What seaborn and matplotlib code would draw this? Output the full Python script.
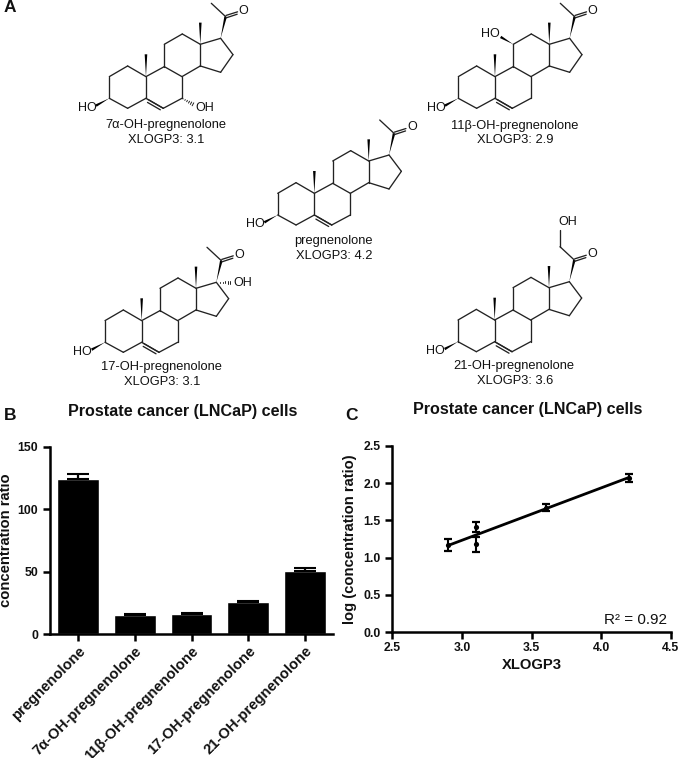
import matplotlib
matplotlib.use("Agg")
import matplotlib.pyplot as plt
from matplotlib.patches import Polygon
import numpy as np
import seaborn as sns

# ---- chart data ----
compounds = ["pregnenolone", "7α-OH-pregnenolone", "11β-OH-pregnenolone",
             "17-OH-pregnenolone", "21-OH-pregnenolone"]
ratio_mean = [124, 15.5, 16, 25.5, 51]
ratio_err = [4.5, 0.5, 1.2, 1.2, 2.3]
xlogp3 = [4.2, 3.1, 2.9, 3.1, 3.6]
log_ratio = [2.07, 1.18, 1.17, 1.41, 1.67]
log_err = [0.05, 0.10, 0.08, 0.07, 0.05]
xlogp_text = ["4.2", "3.1", "2.9", "3.1", "3.6"]

# ---- structure skeleton (pixels x3, relative to C3) ----
ATOMS = dict(c3=(0, 0), c2=(0, -65), c1=(55, -97), c10=(110, -65), c5=(110, 0), c4=(55, 30),
             c6=(162, 30), c7=(218, 0), c8=(218, -65), c9=(165, -95), c11=(165, -162),
             c12=(219, -193), c13=(273, -162), c14=(273, -97), c15=(334, -78), c16=(371, -131),
             c17=(334, -180), c18=(273, -227), c19=(110, -132), c20=(349, -245), c21=(306, -285),
             o=(397, -260))
BONDS = [("c3", "c2"), ("c2", "c1"), ("c1", "c10"), ("c10", "c5"), ("c5", "c4"), ("c4", "c3"),
         ("c5", "c6"), ("c6", "c7"), ("c7", "c8"), ("c8", "c9"), ("c9", "c10"), ("c9", "c11"),
         ("c11", "c12"), ("c12", "c13"), ("c13", "c14"), ("c14", "c8"), ("c14", "c15"),
         ("c15", "c16"), ("c16", "c17"), ("c17", "c13"), ("c20", "c21")]
MOL_C3 = {"pregnenolone": (277.7, 215), "7α-OH-pregnenolone": (109.3, 98.3),
          "11β-OH-pregnenolone": (458.3, 98.3), "17-OH-pregnenolone": (105, 342.3),
          "21-OH-pregnenolone": (458, 341.7)}
MOL_TXT = {"pregnenolone": (333, 241), "7α-OH-pregnenolone": (165.5, 125),
           "11β-OH-pregnenolone": (514.5, 125.5), "17-OH-pregnenolone": (161, 367),
           "21-OH-pregnenolone": (514, 366.5)}

sns.set_style("ticks")
plt.rcParams["font.family"] = ["Liberation Sans", "DejaVu Sans"]
W, H = 680, 758
fig = plt.figure(figsize=(W / 100, H / 100), dpi=100, facecolor="white")

def px_axes(l, r, t, b):
    return fig.add_axes([l / W, (H - b) / H, (r - l) / W, (b - t) / H])

# ---- overlay for structures ----
ov = fig.add_axes([0, 0, 1, 1], zorder=5)
ov.set_xlim(0, W)
ov.set_ylim(H, 0)
ov.axis("off")
ov.patch.set_alpha(0)
INK = "#222222"
LW = 0.95

def line(p, q, lw=LW):
    ov.plot([p[0], q[0]], [p[1], q[1]], color=INK, lw=lw, solid_capstyle="round")

def wedge(p, q, w=2.6):
    p, q = np.array(p, float), np.array(q, float)
    d = q - p
    n = np.array([-d[1], d[0]]) / np.hypot(*d)
    ov.add_patch(Polygon([p, q + n * w / 2, q - n * w / 2], closed=True, color="black", lw=0))

def hashed(p, q, w=3.4, k=6):
    p, q = np.array(p, float), np.array(q, float)
    d = q - p
    n = np.array([-d[1], d[0]]) / np.hypot(*d)
    for t in np.linspace(0.1, 1, k):
        c = p + d * t
        line(c + n * w * t / 2, c - n * w * t / 2, lw=0.7)

def atomtxt(x, y, s):
    ov.text(x, y, s, fontsize=9, ha="center", va="center", color="#111111")

def molecule(name, logp):
    ox, oy = MOL_C3[name]
    P = {k: (ox + v[0] / 3, oy + v[1] / 3) for k, v in ATOMS.items()}
    rel = lambda a, dx, dy: (P[a][0] + dx / 3, P[a][1] + dy / 3)
    for a, b in BONDS:
        line(P[a], P[b])
    # C5=C6 inner bond
    a, b = np.array(P["c5"]), np.array(P["c6"])
    line(a + (b - a) * 0.12 + np.array([0.9, -2.6]) * 0 + np.array([-0.9, 2.6]) * 0 + np.array([1.3, 2.6]) * 0.0 + np.array([-1.4, 2.5]) * -0.0 + np.array([0, 0]), b)
    line(a + (b - a) * 0.14 + np.array([-1.2, 2.6]) * 0 + np.array([-0.9, 2.7]), b + (a - b) * 0.12 + np.array([-0.9, 2.7]))
    # C17-C20, C20=O
    wedge(P["c17"], P["c20"])
    c20, o = np.array(P["c20"]), np.array(P["o"])
    end = c20 + (o - c20) * 0.72
    line(c20 + np.array([0.4, -1.2]), end + np.array([0.4, -1.2]))
    line(c20 + np.array([0.6, 1.2]), end + np.array([0.0, 1.2]))
    atomtxt(P["o"][0] + 2, P["o"][1] - 1, "O")
    wedge(P["c13"], P["c18"])
    wedge(P["c10"], P["c19"])
    wedge(P["c3"], rel("c3", -40, 22))
    atomtxt(*rel("c3", -67, 28), "HO")
    if name.startswith("7α"):
        hashed(P["c7"], rel("c7", 33, 18))
        atomtxt(*rel("c7", 67, 30), "OH")
    if name.startswith("11β"):
        wedge(P["c11"], rel("c11", -38, -22))
        atomtxt(*rel("c11", -68, -32), "HO")
    if name.startswith("17"):
        hashed(P["c17"], rel("c17", 42, 0))
        atomtxt(*rel("c17", 79, 2), "OH")
    if name.startswith("21"):
        line(P["c21"], rel("c21", 0, -50))
        atomtxt(*rel("c21", 24, -73), "OH")
    tx, ty = MOL_TXT[name]
    ov.text(tx, ty, name, fontsize=9.3, ha="center", va="center", color="#111111")
    ov.text(tx + 1, ty + 14.6, f"XLOGP3: {logp}", fontsize=9.3, ha="center", va="center", color="#111111")

for c, lp in zip(compounds, xlogp_text):
    molecule(c, lp)

for s, x, y in [("A", 4, 8), ("B", 4, 415), ("C", 345, 415)]:
    ov.text(x, y, s, fontsize=12.5, fontweight="bold", ha="left", va="center", color="#111111")

# ---- shared axis styling ----
def style(ax):
    sns.despine(ax=ax)
    for s in ("left", "bottom"):
        ax.spines[s].set_linewidth(1.8)
        ax.spines[s].set_color("black")
    ax.tick_params(axis="both", length=5, width=1.8, color="black", labelcolor="#111111")
    ax.patch.set_alpha(0)

# ---- panel B ----
axb = px_axes(50, 333, 446.7, 634.3)
sns.barplot(x=compounds, y=ratio_mean, color="black", saturation=1, width=0.74, ax=axb)
axb.errorbar(range(len(compounds)), ratio_mean, yerr=[np.zeros(5), ratio_err], fmt="none",
             ecolor="black", elinewidth=1.6, capsize=7.8, capthick=1.5)
axb.set_xlim(-0.5, 4.5)
axb.set_ylim(0, 150)
axb.set_yticks([0, 50, 100, 150])
style(axb)
axb.set_yticklabels(["0", "50", "100", "150"], fontsize=8.8, fontweight="bold")
axb.tick_params(axis="x", pad=2)
axb.set_xticks(range(5))
axb.set_xticklabels(compounds, rotation=45, ha="right", rotation_mode="anchor",
                    fontsize=10.6, fontweight="bold")
axb.set_ylabel("concentration ratio", fontsize=10.6, fontweight="bold", color="#111111")
axb.yaxis.set_label_coords(-0.132, 0.5)
axb.set_title("Prostate cancer (LNCaP) cells", fontsize=11.6, fontweight="bold",
              x=0.468, y=1.121, color="#111111")

# ---- panel C ----
axc = px_axes(392.3, 671, 445.7, 632.3)
sns.regplot(x=np.array(xlogp3), y=np.array(log_ratio), ci=None, color="black", ax=axc,
            scatter_kws={"s": 14, "marker": "D", "linewidths": 0, "alpha": 1},
            line_kws={"lw": 2.0})
axc.errorbar(xlogp3, log_ratio, yerr=log_err, fmt="none", ecolor="black", elinewidth=1.5,
             capsize=3.0, capthick=1.6)
axc.set_xlim(2.5, 4.5)
axc.set_ylim(0, 2.5)
axc.set_xticks([2.5, 3.0, 3.5, 4.0, 4.5])
axc.set_yticks([0, 0.5, 1.0, 1.5, 2.0, 2.5])
style(axc)
axc.set_xticklabels(["2.5", "3.0", "3.5", "4.0", "4.5"], fontsize=8.8, fontweight="bold")
axc.set_yticklabels(["0.0", "0.5", "1.0", "1.5", "2.0", "2.5"], fontsize=8.8, fontweight="bold")
axc.tick_params(axis="x", pad=2)
axc.set_xlabel("XLOGP3", fontsize=10.6, fontweight="bold", color="#111111", labelpad=3)
axc.set_ylabel("log (concentration ratio)", fontsize=10.6, fontweight="bold", color="#111111")
axc.yaxis.set_label_coords(-0.127, 0.5)
axc.set_title("Prostate cancer (LNCaP) cells", fontsize=11.6, fontweight="bold",
              x=0.486, y=1.127, color="#111111")
axc.text(0.985, 0.03, "R² = 0.92", transform=axc.transAxes, fontsize=11, ha="right", va="bottom",
         color="#111111")

fig.savefig("out.png", dpi=100, facecolor="white")
